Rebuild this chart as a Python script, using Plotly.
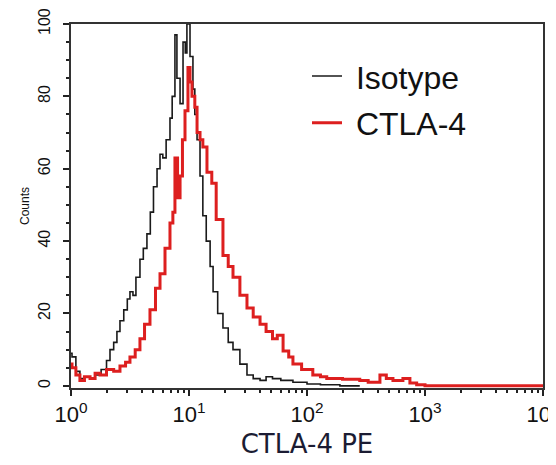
import plotly.graph_objects as go

# Isotype histogram (intensity, counts)
iso_x = [1.0, 1.02, 1.1, 1.19, 1.3, 1.45, 1.6, 1.8, 2.0, 2.14, 2.3, 2.45, 2.6, 2.8, 3.0,
         3.16, 3.35, 3.55, 3.84, 4.1, 4.4, 4.7, 5.0, 5.36, 5.68, 6.0, 6.4, 6.9, 7.2, 7.6,
         7.9, 8.4, 8.9, 9.3, 9.6, 10.2, 10.8, 11.2, 11.7, 12.4, 13.1, 14.0, 15.1, 16.0,
         17.5, 19.4, 21.5, 23.6, 27, 31, 35, 40, 45, 51, 60, 76, 100, 130, 190, 280]
iso_y = [9, 8, 4, 2, 2.5, 2, 3, 4.5, 7, 10, 12, 15, 18, 21, 24,
         26, 25, 30, 35, 38, 42, 48, 55, 60, 64, 63, 68, 74, 80, 97,
         85, 78, 95, 92, 100, 91, 82, 75, 68, 58, 47, 40, 33, 26,
         20, 16, 12, 10, 6, 3, 2, 1.5, 2.5, 2, 1.5, 1, 0.5, 0.3, 0, 0]

# CTLA-4 histogram (intensity, counts)
ctla_x = [1.0, 1.02, 1.1, 1.19, 1.3, 1.45, 1.6, 1.76, 2.0, 2.3, 2.6, 2.9, 3.16, 3.5, 3.84,
          4.2, 4.67, 5.2, 5.68, 6.26, 6.9, 7.3, 7.6, 8.0, 8.4, 8.8, 9.25, 9.8, 10.2, 10.6,
          11.2, 11.7, 12.4, 13.1, 14.2, 15.6, 17.0, 19.4, 21.5, 23.6, 27, 31, 35, 40, 45,
          51, 56, 62.7, 70, 76, 90, 112, 130, 147, 200, 280, 330, 415, 470, 535, 650, 745,
          850, 1000, 10000]
ctla_y = [6, 5, 3, 1.5, 2.5, 2, 3.5, 3, 4.5, 4, 5.5, 6.5, 8, 10, 13,
          17, 21, 27, 31, 38, 45, 48, 63, 52, 58, 68, 76, 88, 84, 80,
          77, 70, 68, 66, 59, 56, 46, 36, 33, 30, 25, 21.5, 19, 17, 15,
          13, 14, 9.6, 8, 6, 4.5, 3, 2.5, 2, 1.8, 1.5, 1, 3, 2, 1.5, 2, 0.8,
          0.3, 0, 0]

series_names = ["Isotype", "CTLA-4"]
decades = [1, 10, 100, 1000, 10000]
decade_labels = ["10<sup>0</sup>", "10<sup>1</sup>", "10<sup>2</sup>", "10<sup>3</sup>", "10<sup>4</sup>"]
y_ticks = [0, 20, 40, 60, 80, 100]
minor_vals = [m * d for d in [1, 10, 100, 1000] for m in range(2, 10)]

fig = go.Figure()
fig.add_trace(go.Scatter(x=iso_x, y=iso_y, mode="lines", name="\u00a0" + series_names[0],
                         line=dict(color="#1a1a1a", width=1.6, shape="hv"),
                         legendgroup="a"))
fig.add_trace(go.Scatter(x=ctla_x, y=ctla_y, mode="lines", name="\u00a0" + series_names[1],
                         line=dict(color="#dd1f1f", width=3, shape="hv"),
                         legendgroup="b"))

fig.update_layout(
    width=548, height=457,
    margin=dict(l=63, r=13, t=16, b=77),
    plot_bgcolor="white", paper_bgcolor="white",
    font=dict(family="Liberation Sans, Arial, sans-serif", color="#111"),
    legend=dict(x=0.5, y=0.932, xanchor="left", yanchor="top",
                font=dict(size=32, color="#111"), bgcolor="rgba(0,0,0,0)",
                tracegroupgap=2, itemwidth=30),
    xaxis=dict(type="log", range=[0, 4], tickvals=decades, ticktext=decade_labels,
               automargin=False, ticklabeloverflow="allow",
               ticks="outside", ticklen=6, tickwidth=1.5, tickcolor="#222",
               showline=True, linecolor="#333", linewidth=1.5, mirror=True,
               showgrid=False, zeroline=False,
               tickfont=dict(size=22, color="#111"),
               minor=dict(tickvals=minor_vals, ticks="outside", ticklen=3, tickcolor="#222"),
               title=dict(text="CTLA-4 PE", font=dict(size=26, color="#1b1c33",
                                                     family="DejaVu Sans, sans-serif"),
                          standoff=9)),
    yaxis=dict(range=[-0.6, 100], tickvals=y_ticks,
               automargin=False, ticklabelstandoff=7,
               ticks="outside", ticklen=6, tickwidth=1.5, tickcolor="#222",
               tickangle=-90,
               showline=True, linecolor="#333", linewidth=1.5, mirror=True,
               showgrid=False, zeroline=False,
               tickfont=dict(size=16, color="#111"),
               minor=dict(dtick=5, ticks="outside", ticklen=3, tickcolor="#222"),
               title=dict(text="Counts", font=dict(size=12, color="#111"), standoff=4)),
)

fig.write_html("out.html")
